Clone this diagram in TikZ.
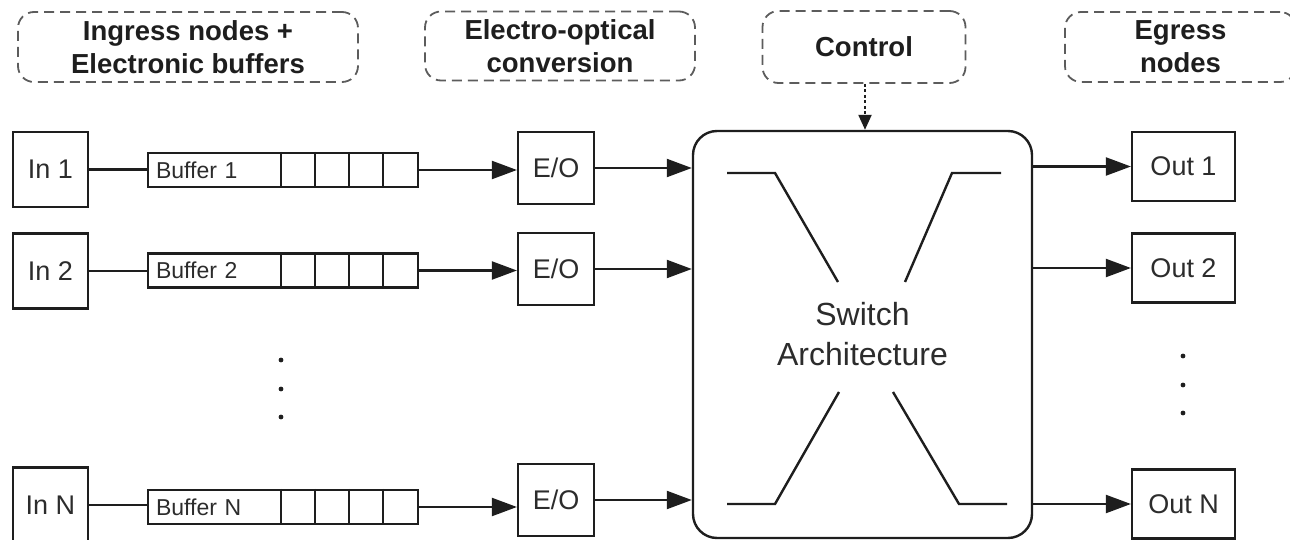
\documentclass[tikz,border=0pt]{standalone}
\usepackage{fontspec}
\setmainfont{Liberation Sans}
\usetikzlibrary{arrows.meta}
\definecolor{ink}{HTML}{1E1E1E}
\definecolor{txt}{HTML}{2C2C2C}
\definecolor{dashgray}{HTML}{5C5C5C}
\begin{document}
\begin{tikzpicture}[x=1pt,y=-1pt,
  lab/.style={draw=dashgray, line width=1.8pt, dash pattern=on 10pt off 6pt,
    rounded corners=16pt, align=center, inner sep=0pt, text=ink,
    font=\bfseries\fontsize{27.5}{33}\selectfont},
  inbox/.style={draw=ink, line width=2.2pt, inner sep=0pt, text=txt,
    minimum width=75pt, minimum height=75pt, font=\fontsize{27}{32}\selectfont},
  eobox/.style={inbox, minimum width=76pt, minimum height=72pt},
  outbox/.style={inbox, minimum width=103pt, minimum height=69pt},
  bufbox/.style={draw=ink, line width=2.2pt, inner sep=8pt, text=txt,
    text width=254pt, align=left, minimum height=34pt,
    font=\fontsize{23}{26}\selectfont},
  swbox/.style={draw=ink, line width=2.4pt, rounded corners=24pt, inner sep=0pt,
    minimum width=339pt, minimum height=407pt, align=center, text=txt,
    font=\fontsize{32}{40}\selectfont},
  link/.style={draw=ink, line width=2.2pt},
  arr/.style={link, -{Triangle[length=25pt,width=18pt]}},
  ctrl/.style={draw=ink, line width=2.2pt, dash pattern=on 3pt off 2.5pt,
    -{Triangle[length=15pt,width=13pt]}},
  xline/.style={draw=ink, line width=2.4pt},
  dotmark/.style={fill=ink}
]
\useasboundingbox (0,0) rectangle (1290,540);

% header labels
\node[lab, minimum width=340pt, minimum height=70pt] (L1) at (188,47) {Ingress nodes +\\Electronic buffers};
\node[lab, minimum width=270pt, minimum height=69pt] (L2) at (560,46) {Electro-optical\\conversion};
\node[lab, minimum width=203pt, minimum height=72pt] (L3) at (864,47) {Control};
\node[lab, minimum width=231pt, minimum height=70pt] (L4) at (1180.5,47) {Egress\\nodes};

% ingress nodes
\node[inbox] (in1) at (50.5,169.5) {In 1};
\node[inbox] (in2) at (50.5,271) {In 2};
\node[inbox] (inN) at (50.5,505) {In N};

% buffers
\node[bufbox] (b1) at (283,170) {Buffer 1};
\node[bufbox] (b2) at (283,270.5) {Buffer 2};
\node[bufbox] (bN) at (283,507) {Buffer N};
\foreach \b in {b1,b2,bN}{
  \foreach \d in {134,168,202,236}{
    \draw[link] ([xshift=\d pt]\b.north west) -- ([xshift=\d pt]\b.south west);
  }
}

% E/O converters
\node[eobox] (eo1) at (556,168) {E/O};
\node[eobox] (eo2) at (556,269) {E/O};
\node[eobox] (eoN) at (556,500) {E/O};

% switch
\node[swbox] (sw) at (862.5,334.5) {Switch\\Architecture};
\draw[xline] (727,173) -- (775,173) -- (838,282);
\draw[xline] (905,282) -- (952,173) -- (1001,173);
\draw[xline] (727,504) -- (775,504) -- (839,392);
\draw[xline] (893,392) -- (959,504) -- (1007,504);

% egress nodes
\node[outbox] (out1) at (1183.5,166.5) {Out 1};
\node[outbox] (out2) at (1183.5,268) {Out 2};
\node[outbox] (outN) at (1183.5,504) {Out N};

% connectors
\draw[link] (in1.east) -- (in1.east -| b1.west);
\draw[link] (in2.east) -- (in2.east -| b2.west);
\draw[link] (inN.east) -- (inN.east -| bN.west);
\draw[arr] (b1.east) -- (b1.east -| eo1.west);
\draw[arr] (b2.east) -- (b2.east -| eo2.west);
\draw[arr] (bN.east) -- (bN.east -| eoN.west);
\draw[arr] (eo1.east) -- (eo1.east -| sw.west);
\draw[arr] (eo2.east) -- (eo2.east -| sw.west);
\draw[arr] (eoN.east) -- (eoN.east -| sw.west);
\draw[arr] (sw.east |- out1.west) -- (out1.west);
\draw[arr] (sw.east |- out2.west) -- (out2.west);
\draw[arr] (sw.east |- outN.west) -- (outN.west);
\draw[ctrl] ([xshift=1pt]L3.south) -- ([xshift=1pt]L3.south |- sw.north);

% ellipsis dots
\foreach \y in {360,389,417} \fill[dotmark] (281,\y) circle[radius=2.4pt];
\foreach \y in {356,385,413} \fill[dotmark] (1183,\y) circle[radius=2.4pt];
\end{tikzpicture}
\end{document}
